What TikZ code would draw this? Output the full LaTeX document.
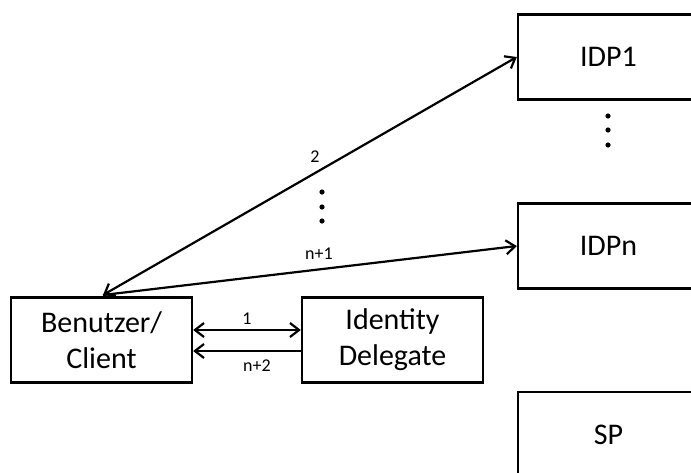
\documentclass[tikz,border=0pt]{standalone}
\usepackage{fontspec}
\setmainfont{Carlito}
\usetikzlibrary{arrows.meta}
\begin{document}
\begin{tikzpicture}[x=1pt,y=-1pt,
  box/.style={draw=black,line width=2.4pt,minimum width=181pt,minimum height=85pt,
    inner sep=0pt,align=center,font=\fontsize{30}{36}\selectfont},
  conn/.style={line width=2.2pt,arrows={-Straight Barb[length=9pt,width=14pt,line width=2.2pt]}},
  conn2/.style={line width=2.2pt,arrows={Straight Barb[length=9pt,width=14pt,line width=2.2pt]-Straight Barb[length=9pt,width=14pt,line width=2.2pt]}},
  lbl/.style={font=\fontsize{18}{20}\selectfont,inner sep=0pt},
  dot/.style={fill=black}]
\clip (0,0) rectangle (691,472);
\fill[white] (0,0) rectangle (691,472);
\node[box] (ben) at (101.5,340) {Benutzer/\\Client};
\node[box] (idd) at (392.5,340) {Identity\\Delegate};
\node[box] (idp1) at (608.5,57) {IDP1};
\node[box] (idpn) at (608.5,246) {IDPn};
\node[box] (sp) at (608.5,434.5) {SP};
\coordinate (bt) at (103,295);
\draw[conn2] (bt) -- (idp1.west);
\draw[conn] (bt) -- (idpn.west);
\draw[conn2] ([yshift=10pt]ben.east) -- ([yshift=10pt]idd.west);
\draw[conn] ([yshift=-11pt]idd.west) -- ([yshift=-11pt]ben.east);
\node[lbl] (l2) at (315,157) {2};
\node[lbl] (ln1) at (319,254) {n+1};
\node[lbl] (l1) at (247,319) {1};
\node[lbl] (ln2) at (257,366) {n+2};
\foreach \y in {192,207,221} \fill[dot] (322,\y) circle (2.6);
\foreach \y in {116,130,145} \fill[dot] (608,\y) circle (2.6);
\end{tikzpicture}
\end{document}
